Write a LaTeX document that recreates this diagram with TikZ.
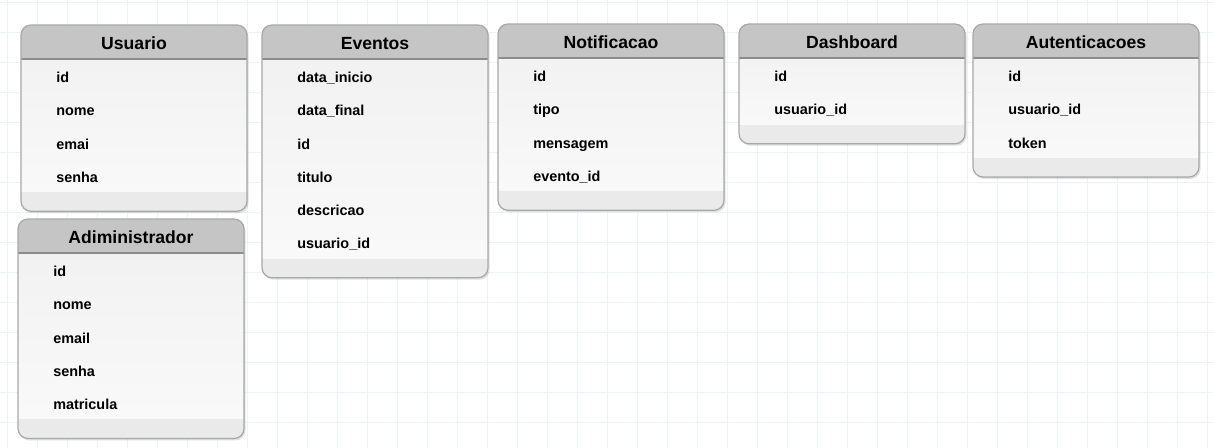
\documentclass[tikz,border=0pt]{standalone}
\usepackage{fontspec}
\setmainfont{Liberation Sans}
\definecolor{grade}{HTML}{EDF2F7}
\definecolor{cabecalho}{HTML}{C5C5C5}
\definecolor{corpo}{HTML}{F0F0F0}
\definecolor{corpoclaro}{HTML}{FAFAFA}
\definecolor{rodape}{HTML}{EAEAEA}
\definecolor{borda}{HTML}{A8A8A8}
\definecolor{linha}{HTML}{8C8C8C}

% nome, esquerda, topo, linhas, titulo, campos
\newcommand{\tabela}[6]{%
  \pgfmathsetmacro{\fim}{#3+52.5+33.25*(#4-1)+15}
  \pgfmathsetmacro{\base}{\fim+19}
  \fill[black, opacity=0.12, rounded corners=7.5pt] (#2+1.5,#3+2) rectangle (#2+227.5,\base+2);
  \begin{scope}
    \clip[rounded corners=7.5pt] (#2,#3) rectangle (#2+226,\base);
    \fill[top color=corpo, bottom color=corpoclaro] (#2,#3) rectangle (#2+226,\base);
    \fill[cabecalho] (#2,#3) rectangle (#2+226,#3+34);
    \fill[rodape] (#2,\fim) rectangle (#2+226,\base);
  \end{scope}
  \draw[linha, line width=1.1pt] (#2,#3+34) -- (#2+226,#3+34);
  \draw[borda, line width=0.9pt, rounded corners=7.5pt] (#2,#3) rectangle (#2+226,\base);
  \node[titulo] (#1) at (#2+113,#3+18) {#5};
  \foreach \campo [count=\i] in {#6}
    \node[campo] (#1-\i) at (#2+35,#3+52.5+33.25*\i-33.25) {\campo};
}

\begin{document}
\begin{tikzpicture}[x=0.75pt, y=-0.75pt,
    titulo/.style={inner sep=0pt, text height=9.2pt, text depth=0pt,
      font=\bfseries\fontsize{13.2}{15}\selectfont},
    campo/.style={anchor=west, inner sep=0pt, text height=7.8pt, text depth=0pt,
      font=\bfseries\fontsize{10.8}{13}\selectfont}]
  \useasboundingbox (0,0) rectangle (1213,448);
  \fill[white] (0,0) rectangle (1213,448);
  % grade de fundo
  \foreach \x in {7,37,...,1207}
    \draw[grade, line width=0.75pt] (\x,0) -- (\x,448);
  \foreach \y in {3,33,...,443}
    \draw[grade, line width=0.75pt] (0,\y) -- (1213,\y);

  \tabela{usuario}{21}{25}{4}{Usuario}{id,nome,emai,senha}
  \tabela{adm}{18}{219}{5}{Adiministrador}{id,nome,email,senha,matricula}
  \tabela{eventos}{262}{25}{6}{Eventos}{data\_inicio,data\_final,id,titulo,descricao,usuario\_id}
  \tabela{notificacao}{498}{24}{4}{Notificacao}{id,tipo,mensagem,evento\_id}
  \tabela{dashboard}{739}{24}{2}{Dashboard}{id,usuario\_id}
  \tabela{autenticacoes}{973}{24}{3}{Autenticacoes}{id,usuario\_id,token}
\end{tikzpicture}
\end{document}
